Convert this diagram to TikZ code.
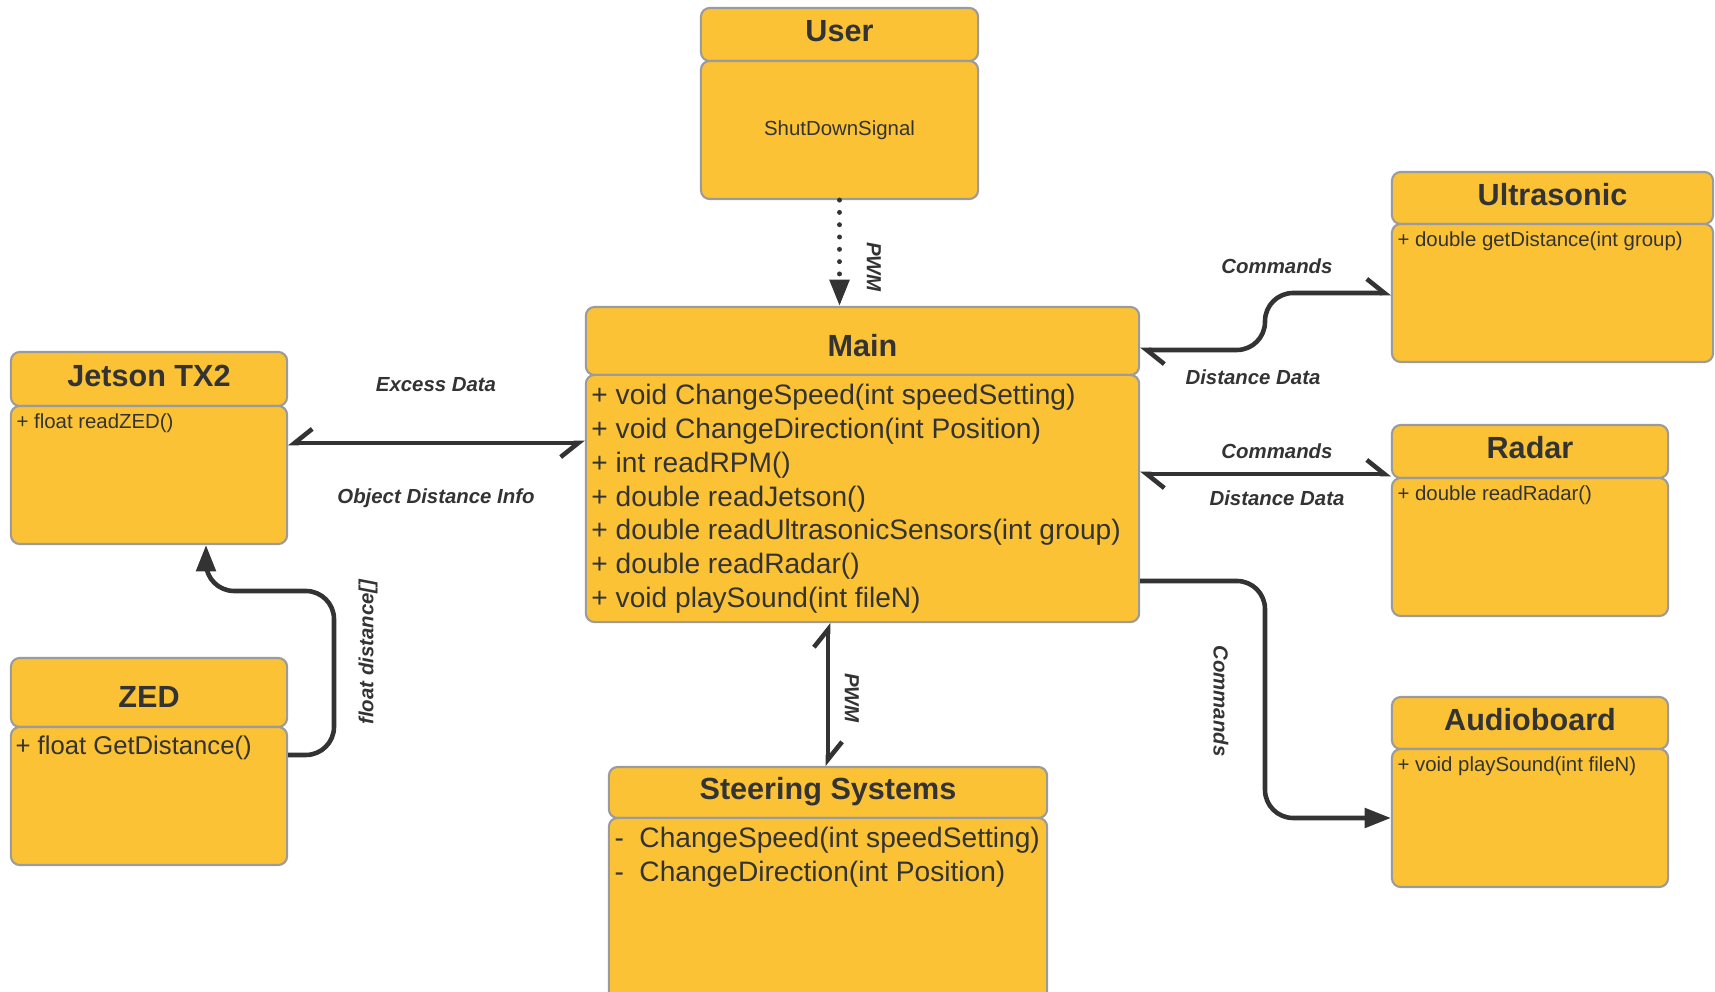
\documentclass[tikz,border=0pt]{standalone}
\usepackage{fontspec}
\setmainfont{Liberation Sans}
\usetikzlibrary{arrows.meta,calc}

\definecolor{boxfill}{HTML}{FBC236}
\definecolor{boxline}{HTML}{9B9B9B}
\definecolor{ink}{HTML}{333333}

\begin{document}
\begin{tikzpicture}
  [x=0.01cm,y=-0.01cm,every node/.style={text=ink,inner sep=0pt}]

  \tikzstyle{cls} = [rectangle,draw=boxline,fill=boxfill,line width=0.6pt,rounded corners=2.5pt]
  \tikzstyle{head} = [cls,font=\fontsize{8.7}{10}\selectfont\bfseries,text height=6.3pt,text depth=2.2pt]
  \tikzstyle{big} = [align=left,font=\fontsize{8}{9.6}\selectfont]
  \tikzstyle{small} = [align=left,font=\fontsize{5.8}{7}\selectfont]
  \tikzstyle{lbl} = [font=\fontsize{5.8}{7}\selectfont\bfseries\itshape]
  \tikzstyle{wire} = [draw=ink,line width=1.3pt]
  \tikzstyle{harp} = [wire,{Straight Barb[harpoon,length=5pt,width=8pt]}-{Straight Barb[harpoon,length=5pt,width=8pt]}]
  \tikzstyle{harpsw} = [wire,{Straight Barb[harpoon,swap,length=5pt,width=8pt]}-{Straight Barb[harpoon,swap,length=5pt,width=8pt]}]
  \tikzstyle{tri} = [wire,-{Triangle[length=7.5pt,width=5.5pt]}]

  \clip (0,0) rectangle (1715,992);

  \node[head,minimum width=2.77cm,minimum height=.53cm] (usr) at (839.5,34.5) {User};
  \node[cls,minimum width=2.77cm,minimum height=1.38cm,font=\fontsize{5.8}{7}\selectfont] (usrb) at (839.5,130) {ShutDownSignal};

  \node[head,text height=10.9pt,minimum width=5.53cm,minimum height=.68cm] (mn) at (862.5,341) {Main};
  \node[cls,minimum width=5.53cm,minimum height=2.47cm] (mnb) at (862.5,498.5) {};
  \node[big,anchor=north west] at ($(mnb.north west)+(6,10)$) {+ void ChangeSpeed(int speedSetting)\\+ void ChangeDirection(int Position)\\+ int readRPM()\\+ double readJetson()\\+ double readUltrasonicSensors(int group)\\+ double readRadar()\\+ void playSound(int fileN)};

  \node[head,minimum width=2.76cm,minimum height=.54cm] (jet) at (149,379) {Jetson TX2};
  \node[cls,minimum width=2.76cm,minimum height=1.38cm] (jetb) at (149,475) {};
  \node[small,anchor=north west] at ($(jetb.north west)+(6,8)$) {+ float readZED()};

  \node[head,text height=10.9pt,minimum width=2.76cm,minimum height=.69cm] (zed) at (149,692.5) {ZED};
  \node[cls,minimum width=2.76cm,minimum height=1.38cm] (zedb) at (149,796) {};
  \node[align=left,font=\fontsize{7.3}{9}\selectfont,anchor=north west] at ($(zedb.north west)+(5,9)$) {+ float GetDistance()};

  \node[head,minimum width=3.21cm,minimum height=.52cm] (ult) at (1552.5,198) {Ultrasonic};
  \node[cls,minimum width=3.21cm,minimum height=1.38cm] (ultb) at (1552.5,293) {};
  \node[small,anchor=north west] at ($(ultb.north west)+(6,8)$) {+ double getDistance(int group)};

  \node[head,minimum width=2.76cm,minimum height=.53cm] (rad) at (1530,451.5) {Radar};
  \node[cls,minimum width=2.76cm,minimum height=1.38cm] (radb) at (1530,547) {};
  \node[small,anchor=north west] at ($(radb.north west)+(6,8)$) {+ double readRadar()};

  \node[head,minimum width=2.76cm,minimum height=.52cm] (aud) at (1530,723) {Audioboard};
  \node[cls,minimum width=2.76cm,minimum height=1.38cm] (audb) at (1530,818) {};
  \node[small,anchor=north west] at ($(audb.north west)+(6,8)$) {+ void playSound(int fileN)};

  \node[head,minimum width=4.38cm,minimum height=.51cm] (ste) at (828,792.5) {Steering Systems};
  \node[cls,minimum width=4.38cm,minimum height=1.9cm] (steb) at (828,913) {};
  \node[big,anchor=north west] at ($(steb.north west)+(6,10)$) {\makebox[7.1pt][l]{-}ChangeSpeed(int speedSetting)\\\makebox[7.1pt][l]{-}ChangeDirection(int Position)};

  \coordinate (j) at (0,443);
  \coordinate (u) at (1265,350);
  \coordinate (r) at (0,474);
  \coordinate (a) at (1265,581);
  \coordinate (z) at (334,755);
  \coordinate (z2) at (206,591);

  \draw[tri,line width=1.4pt,line cap=round,dash pattern=on 0pt off 3.5pt] (usrb.south) -- (usrb.south |- mn.north);
  \draw[harpsw] (jetb.east |- j) -- (mnb.west |- j);
  \draw[harp] (mn.east |- u) [rounded corners=8] -- (u) |- (ultb.west);
  \draw[harp] (mnb.east |- r) -- (rad.west |- r);
  \draw[tri] (mnb.east |- a) [rounded corners=8] -- (a) |- (audb.west);
  \draw[tri] (zedb.east |- z) [rounded corners=8] -- (z) |- (z2) -- (z2 |- jetb.south);
  \draw[harp] (ste.north |- mnb.south) -- (ste.north);

  \node[lbl] at (436,385) {Excess Data};
  \node[lbl] at (436,498) {Object Distance Info};
  \node[lbl] at (1277,266) {Commands};
  \node[lbl] at (1253,377) {Distance Data};
  \node[lbl] at (1277,451) {Commands};
  \node[lbl] at (1277,498) {Distance Data};
  \node[lbl,rotate=-90] at (874,267) {PWM};
  \node[lbl,rotate=-90] at (852,698) {PWM};
  \node[lbl,rotate=90] at (368,652) {float distance[]};
  \node[lbl,rotate=-90] at (1221,701) {Commands};
\end{tikzpicture}
\end{document}
